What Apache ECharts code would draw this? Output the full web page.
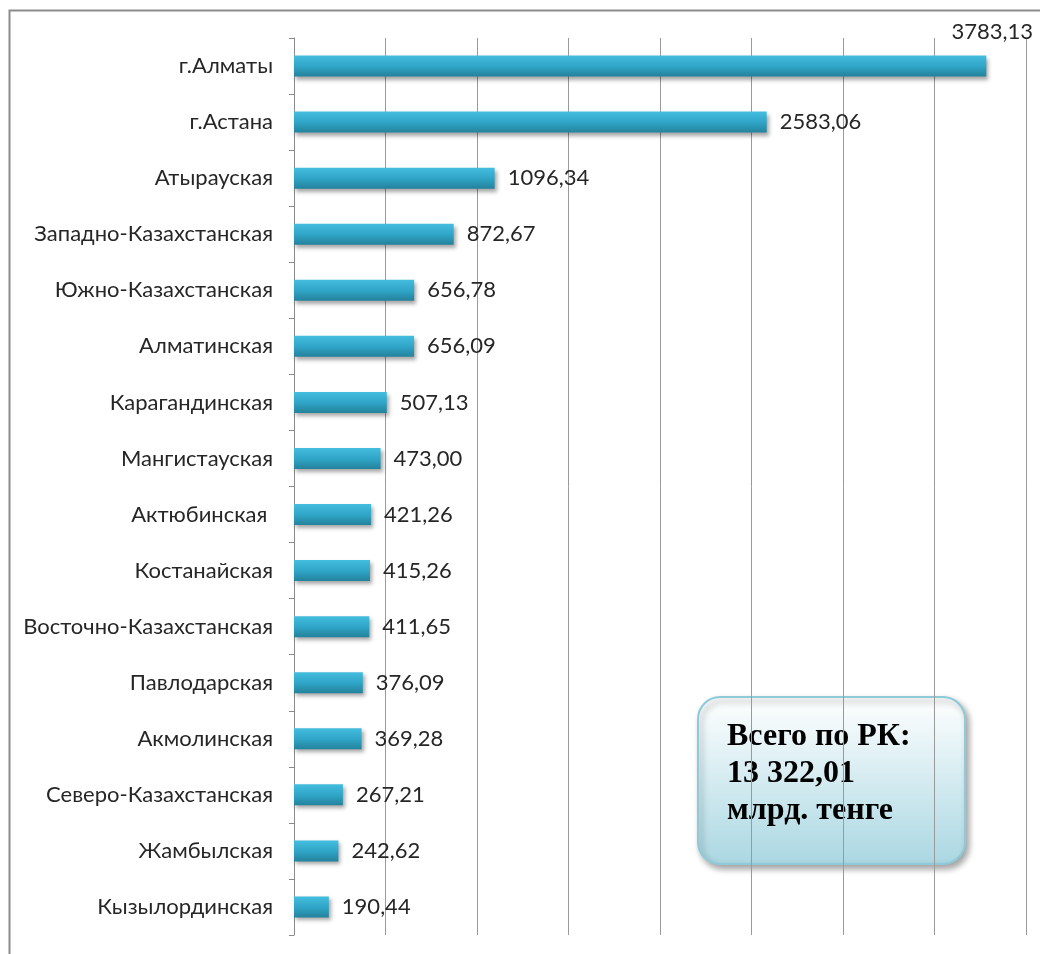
<!DOCTYPE html>
<html>
<head>
<meta charset="utf-8">
<script src="https://cdn.jsdelivr.net/npm/echarts@6/dist/echarts.min.js"></script>
<style>
  html, body { margin: 0; padding: 0; background: #fff; }
  #chart { width: 1040px; height: 954px; }
</style>
</head>
<body>
<div id="chart"></div>
<script>
// регионы сверху вниз
const regions = [
  'г.Алматы', 'г.Астана', 'Атырауская', 'Западно-Казахстанская', 'Южно-Казахстанская',
  'Алматинская', 'Карагандинская', 'Мангистауская', 'Актюбинская ', 'Костанайская',
  'Восточно-Казахстанская', 'Павлодарская', 'Акмолинская', 'Северо-Казахстанская',
  'Жамбылская', 'Кызылординская'
];
const values = [
  3783.13, 2583.06, 1096.34, 872.67, 656.78,
  656.09, 507.13, 473.00, 421.26, 415.26,
  411.65, 376.09, 369.28, 267.21,
  242.62, 190.44
];
const totalLines = ['Всего по РК:', '13 322,01', 'млрд. тенге'];

const myChart = echarts.init(document.getElementById('chart'));
const textColor = '#262626';
const fontFamily = 'Lato, "Open Sans", sans-serif';

const barData = values.map((v, i) => {
  const item = { value: v };
  if (i === 0) {
    // подпись самого длинного столбца стоит над его концом
    item.label = {
      position: ['100%', -24],
      align: 'center',
      verticalAlign: 'middle',
      offset: [6, 0]
    };
  }
  return item;
});

const option = {
  backgroundColor: '#fff',
  animation: false,
  grid: { left: 294, right: 14, top: 38, bottom: 19, containLabel: false },
  xAxis: {
    type: 'value',
    min: 0,
    max: 4000,
    interval: 500,
    axisLine: { show: false },
    axisTick: { show: false },
    axisLabel: { show: false },
    splitLine: { lineStyle: { color: '#9a9a9a', width: 1 } }
  },
  yAxis: {
    type: 'category',
    inverse: true,
    data: regions,
    axisLine: { lineStyle: { color: '#8a8a8a', width: 1 } },
    axisTick: { show: true, length: 5, lineStyle: { color: '#8a8a8a' } },
    axisLabel: { color: textColor, fontSize: 22, fontFamily: fontFamily, margin: 21 },
    splitLine: { show: false }
  },
  series: [{
    type: 'bar',
    data: barData,
    barWidth: 21,
    itemStyle: {
      color: new echarts.graphic.LinearGradient(0, 0, 0, 1, [
        { offset: 0, color: '#44bddf' },
        { offset: 0.5, color: '#30a6c8' },
        { offset: 1, color: '#23829c' }
      ]),
      shadowColor: 'rgba(0,0,0,0.35)',
      shadowBlur: 4,
      shadowOffsetX: 2,
      shadowOffsetY: 3
    },
    label: {
      show: true,
      position: 'right',
      distance: 13,
      color: textColor,
      fontSize: 22,
      fontFamily: fontFamily,
      formatter: p => p.value.toFixed(2).replace('.', ',')
    }
  }],
  graphic: [
    {
      type: 'rect',
      silent: true,
      shape: { x: 9.5, y: 10.5, width: 1100, height: 1000 },
      style: { fill: 'none', stroke: '#8c8c8c', lineWidth: 2 }
    },
    {
      type: 'rect',
      silent: true,
      shape: { x: 698, y: 697, width: 267, height: 167, r: 22 },
      style: {
        fill: new echarts.graphic.LinearGradient(0, 0, 0, 1, [
          { offset: 0, color: '#ffffff' },
          { offset: 1, color: '#aad7e2' }
        ]),
        stroke: '#8ecad8',
        lineWidth: 2,
        shadowColor: 'rgba(0,0,0,0.35)',
        shadowBlur: 6,
        shadowOffsetX: 3,
        shadowOffsetY: 4
      }
    },
    {
      type: 'text',
      silent: true,
      left: 727,
      top: 718,
      style: {
        text: totalLines.join('\n'),
        fill: '#000',
        font: 'bold 32px "Liberation Serif", "DejaVu Serif", serif',
        lineHeight: 37
      }
    }
  ]
};

myChart.setOption(option);
window.addEventListener('resize', () => myChart.resize());
</script>
</body>
</html>
